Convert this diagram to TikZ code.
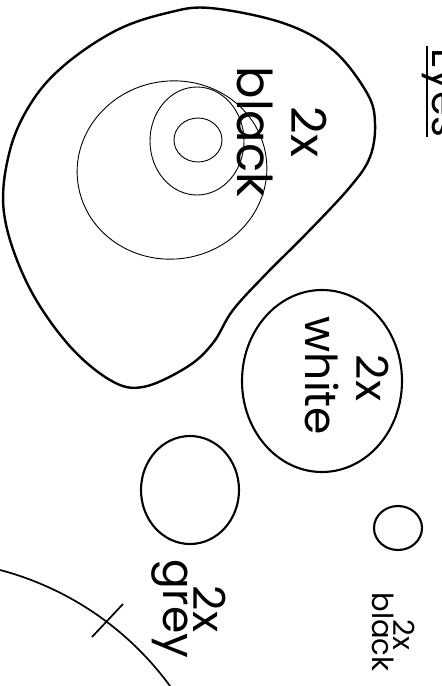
\documentclass[tikz,border=0pt]{standalone}
\usepackage{fontspec}
\setmainfont{Poppins}
\begin{document}
\begin{tikzpicture}[x=1pt,y=-1pt,
  heavy/.style={draw=black,line width=2.4pt},
  medium/.style={draw=black,line width=2.1pt},
  thinline/.style={draw=black,line width=0.9pt},
  lbl/.style={rotate=-90,anchor=base,inner sep=0pt}]
\useasboundingbox (0,0) rectangle (442,686);
\clip (0,0) rectangle (442,686);
% big blob
\draw[heavy] plot[smooth cycle,tension=0.6] coordinates {
 (210,8) (283,23) (333,50) (367,93) (375,123) (370,157) (350,187) (307,233)
 (267,273) (233,310) (213,343) (187,367) (143,387) (110,380) (67,343)
 (27,283) (4,213) (10,150) (33,100) (67,63) (117,30) (167,13)};
% inner rings
\draw[thinline,rotate around={9:(172,170)}] (172,170) ellipse [x radius=95pt, y radius=89pt];
\draw[thinline] (197,141) ellipse [x radius=47pt, y radius=54pt];
\draw[thinline] (198,140) ellipse [x radius=24pt, y radius=22pt];
\node[lbl,font=\fontsize{48}{48}\selectfont] (bigtwo) at (291,132) {2x};
\node[lbl,font=\fontsize{48}{48}\selectfont] (bigblack) at (237,132) {black};
% white
\draw[medium] (322,381) ellipse [x radius=80pt, y radius=91pt];
\node[lbl,font=\fontsize{44}{44}\selectfont] (wtwo) at (356,378) {2x};
\node[lbl,font=\fontsize{44}{44}\selectfont] (white) at (305,376) {white};
% grey
\draw[medium] (190,490) ellipse [x radius=49pt, y radius=54pt];
\node[lbl,font=\fontsize{44}{44}\selectfont] (gtwo) at (193,609) {2x};
\node[lbl,font=\fontsize{44}{44}\selectfont] (grey) at (163,609) {grey};
% small black
\draw[medium] (398,528) ellipse [x radius=24pt, y radius=22pt];
\node[lbl,font=\fontsize{29}{29}\selectfont] (stwo) at (393,635) {2x};
\node[lbl,font=\fontsize{29}{29}\selectfont] (sblack) at (372,632) {black};
% arc and tick
\draw[line width=1.7pt] plot[smooth,domain=34:78,samples=30]
  ({-78.5+307.8*cos(\x)},{867.6-307.8*sin(\x)});
\draw[line width=1.7pt] (92,637) -- (123,604);
% title
\node[rotate=-90,anchor=base west,inner sep=0pt,font=\fontsize{40}{40}\selectfont] (eyes) at (432,48) {Eyes};
\draw[line width=2.6pt] ([xshift=-5pt,yshift=2pt]eyes.base west) -- ([xshift=-5pt]eyes.base east);
\end{tikzpicture}
\end{document}
